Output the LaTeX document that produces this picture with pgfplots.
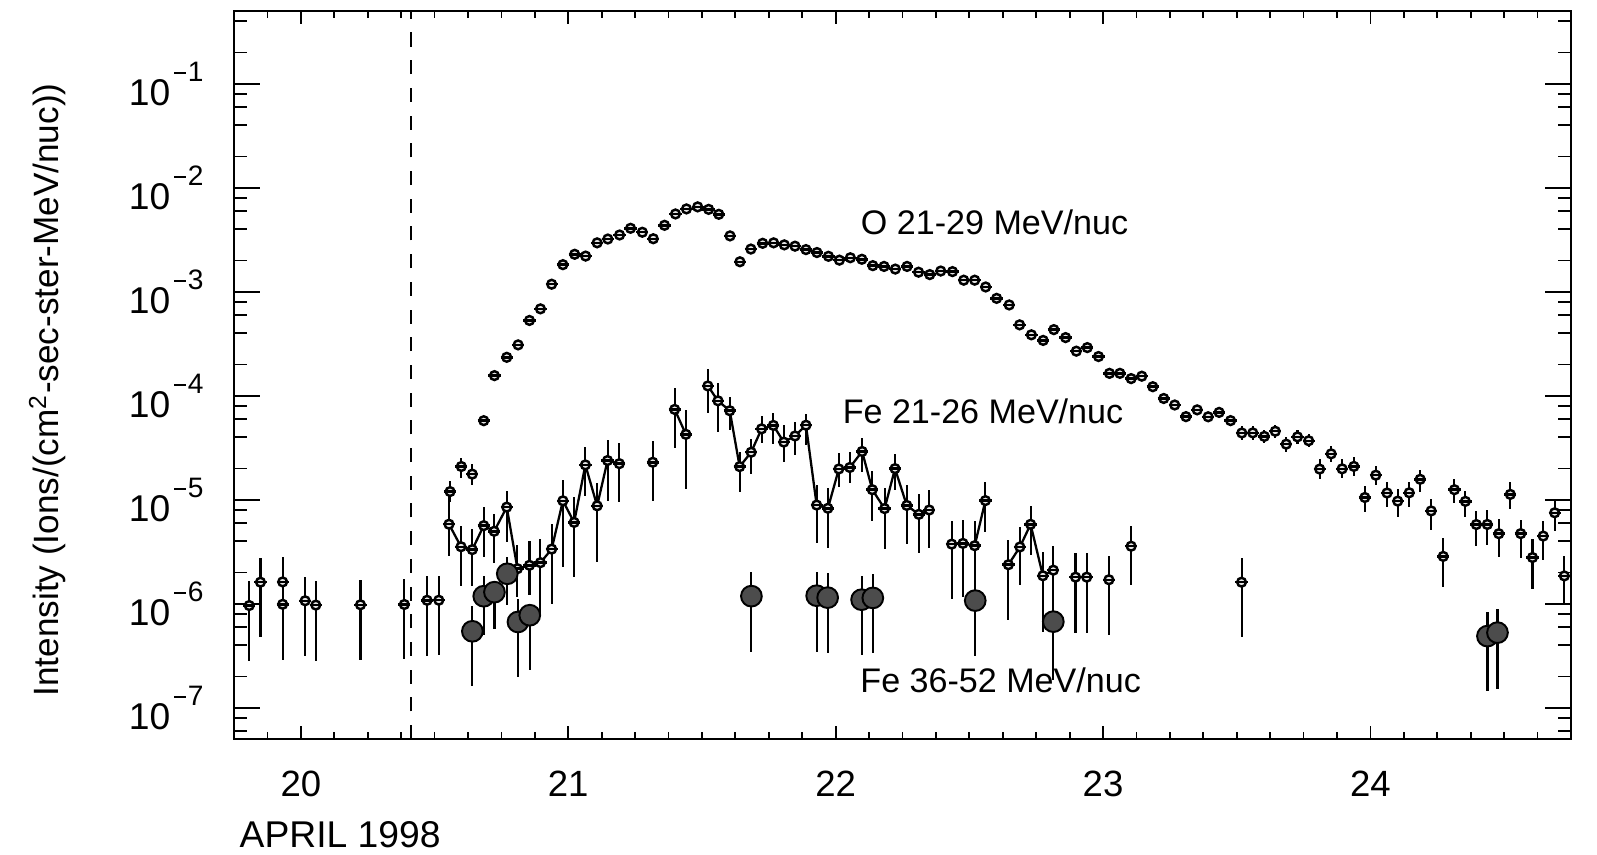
\documentclass[border=0pt]{standalone}
\usepackage{fontspec}
\setmainfont{Liberation Sans}
\usepackage{pgfplots}
\usepackage{pgfplotstable}
\pgfplotsset{compat=1.18}

% open circle crossed by a short horizontal bin bar
\pgfdeclareplotmark{thetac}{%
  \pgfpathcircle{\pgfpointorigin}{\pgfplotmarksize}%
  \pgfusepathqfillstroke
  \pgfpathmoveto{\pgfpoint{-1.4\pgfplotmarksize}{0pt}}%
  \pgfpathlineto{\pgfpoint{1.4\pgfplotmarksize}{0pt}}%
  \pgfusepathqstroke
}

% power-of-ten tick label
\newcommand\pw[1]{{\fontsize{10.6}{12}\selectfont 10\kern1.2pt\raisebox{6.8pt}{\fontsize{8}{9}\selectfont\rule[0.48ex]{0.42em}{0.09em}\kern0.06em#1}}}

% O 21-29 MeV/nuc, hourly, bars inside the symbol
\pgfplotstableread{
d y
20.684 5.75e-5
20.724 1.56e-4
20.770 2.34e-4
20.8125 3.08e-4
20.855 5.29e-4
20.896 6.84e-4
20.938 1.18e-3
20.980 1.82e-3
21.024 2.29e-3
21.065 2.20e-3
21.108 2.95e-3
21.148 3.21e-3
21.192 3.51e-3
21.233 4.07e-3
21.277 3.73e-3
21.318 3.23e-3
21.360 4.35e-3
21.401 5.59e-3
21.442 6.25e-3
21.484 6.54e-3
21.525 6.19e-3
21.563 5.55e-3
21.605 3.44e-3
21.642 1.94e-3
21.683 2.57e-3
21.727 2.92e-3
21.768 2.95e-3
21.808 2.82e-3
21.848 2.74e-3
21.889 2.54e-3
21.930 2.38e-3
21.973 2.19e-3
22.014 2.01e-3
22.055 2.12e-3
22.098 2.05e-3
22.139 1.78e-3
22.181 1.75e-3
22.223 1.65e-3
22.267 1.75e-3
22.310 1.54e-3
22.352 1.46e-3
22.393 1.58e-3
22.437 1.56e-3
22.479 1.29e-3
22.520 1.29e-3
22.561 1.11e-3
22.602 8.63e-4
22.649 7.46e-4
22.688 4.80e-4
22.732 3.85e-4
22.776 3.40e-4
22.816 4.32e-4
22.860 3.62e-4
22.900 2.68e-4
22.941 2.90e-4
22.983 2.38e-4
23.024 1.64e-4
23.063 1.64e-4
23.105 1.46e-4
23.145 1.54e-4
23.186 1.22e-4
}\tabO

% O 21-29 MeV/nuc with visible error bars
\pgfplotstableread{
d y lo hi
20.558 1.197e-5 9.40e-6 1.517e-5
20.600 2.085e-5 1.634e-5 2.544e-5
20.641 1.761e-5 1.393e-5 2.198e-5
23.227 9.40e-5 8.58e-5 1.03e-4
23.268 8.14e-5 7.43e-5 8.92e-5
23.310 6.29e-5 5.74e-5 6.89e-5
23.352 7.31e-5 6.67e-5 8.01e-5
23.393 6.27e-5 5.72e-5 6.87e-5
23.434 6.91e-5 6.30e-5 7.57e-5
23.477 5.76e-5 5.16e-5 6.43e-5
23.519 4.38e-5 3.78e-5 5.08e-5
23.560 4.39e-5 3.79e-5 5.09e-5
23.603 4.06e-5 3.50e-5 4.71e-5
23.644 4.55e-5 3.93e-5 5.27e-5
23.685 3.42e-5 2.89e-5 4.05e-5
23.727 4.02e-5 3.47e-5 4.66e-5
23.769 3.69e-5 3.18e-5 4.28e-5
23.810 1.97e-5 1.58e-5 2.46e-5
23.853 2.76e-5 2.30e-5 3.31e-5
23.894 1.98e-5 1.61e-5 2.44e-5
23.938 2.09e-5 1.69e-5 2.59e-5
23.979 1.05e-5 7.56e-6 1.36e-5
24.020 1.72e-5 1.37e-5 2.09e-5
24.062 1.16e-5 8.47e-6 1.47e-5
24.102 9.69e-6 6.80e-6 1.256e-5
24.145 1.166e-5 8.50e-6 1.478e-5
24.186 1.571e-5 1.195e-5 1.93e-5
24.227 7.80e-6 5.09e-6 1.011e-5
24.272 2.85e-6 1.433e-6 4.33e-6
24.314 1.247e-5 9.21e-6 1.579e-5
24.355 9.64e-6 6.76e-6 1.221e-5
24.396 5.77e-6 3.62e-6 7.86e-6
24.437 5.78e-6 3.63e-6 7.99e-6
24.480 4.71e-6 2.81e-6 6.46e-6
24.523 1.125e-5 8.20e-6 1.477e-5
24.562 4.72e-6 2.78e-6 6.44e-6
24.606 2.78e-6 1.40e-6 4.17e-6
24.646 4.47e-6 2.63e-6 6.26e-6
24.689 7.49e-6 5.00e-6 9.70e-6
24.725 1.85e-6 9.74e-7 2.90e-6
}\tabOb

% quiet-time intensities before the onset
\pgfplotstableread{
d y lo hi
19.807 9.60e-7 2.84e-7 1.67e-6
19.849 1.61e-6 4.78e-7 2.76e-6
19.932 1.62e-6 1.00e-6 2.82e-6
19.932 9.87e-7 2.90e-7 1.60e-6
20.016 1.067e-6 3.13e-7 1.815e-6
20.056 9.70e-7 2.84e-7 1.66e-6
20.223 9.76e-7 2.86e-7 1.70e-6
20.387 9.83e-7 2.91e-7 1.71e-6
20.472 1.078e-6 3.15e-7 1.85e-6
20.516 1.08e-6 3.20e-7 1.85e-6
}\tabQ

% Fe 21-26 MeV/nuc, runs of consecutive hours
\pgfplotstableread{
d y lo hi
20.554 5.81e-6 2.89e-6 1.145e-5
20.599 3.53e-6 1.49e-6 5.62e-6
20.641 3.31e-6 1.49e-6 5.22e-6
20.684 5.63e-6 2.80e-6 8.44e-6
20.723 4.97e-6 2.47e-6 7.30e-6
20.770 8.48e-6 3.91e-6 1.208e-5
20.810 2.17e-6 1.16e-6 3.64e-6
20.855 2.34e-6 1.20e-6 3.98e-6
20.896 2.48e-6 7.48e-7 4.17e-6
20.938 3.35e-6 9.83e-7 5.90e-6
20.980 9.76e-6 2.27e-6 1.543e-5
21.022 6.05e-6 1.82e-6 1.068e-5
21.064 2.16e-5 1.094e-5 3.23e-5
21.108 8.73e-6 2.54e-6 1.461e-5
21.147 2.38e-5 9.61e-6 3.76e-5
21.191 2.22e-5 9.42e-6 3.50e-5
}\feA
\pgfplotstableread{
d y lo hi
21.398 7.38e-5 3.16e-5 1.174e-4
21.440 4.25e-5 1.26e-5 7.23e-5
}\feB
\pgfplotstableread{
d y lo hi
21.522 1.241e-4 6.88e-5 1.82e-4
21.560 8.93e-5 4.43e-5 1.338e-4
21.604 7.17e-5 4.71e-5 9.62e-5
21.641 2.08e-5 1.178e-5 2.85e-5
21.684 2.86e-5 1.773e-5 3.85e-5
21.723 4.80e-5 3.52e-5 6.31e-5
21.767 5.18e-5 3.45e-5 6.80e-5
21.806 3.58e-5 2.30e-5 5.19e-5
21.848 4.10e-5 2.72e-5 5.59e-5
21.889 5.20e-5 3.34e-5 6.74e-5
21.929 8.88e-6 3.81e-6 1.382e-5
21.971 8.27e-6 3.46e-6 1.287e-5
22.012 1.975e-5 1.335e-5 2.80e-5
22.053 2.04e-5 1.442e-5 2.90e-5
22.099 2.91e-5 1.867e-5 3.91e-5
22.137 1.248e-5 6.19e-6 1.87e-5
22.183 8.21e-6 3.39e-6 1.299e-5
22.222 1.99e-5 1.252e-5 2.78e-5
22.266 8.81e-6 3.72e-6 1.40e-5
22.311 7.23e-6 3.10e-6 1.125e-5
22.350 7.96e-6 3.41e-6 1.231e-5
}\feC
\pgfplotstableread{
d y lo hi
22.434 3.74e-6 1.108e-6 6.26e-6
22.476 3.80e-6 1.152e-6 6.41e-6
22.520 3.61e-6 1.11e-6 6.28e-6
22.560 9.80e-6 4.87e-6 1.492e-5
}\feD
\pgfplotstableread{
d y lo hi
22.646 2.37e-6 6.92e-7 4.06e-6
22.689 3.51e-6 1.50e-6 5.47e-6
22.729 5.80e-6 2.92e-6 8.64e-6
22.775 1.856e-6 5.38e-7 3.11e-6
22.814 2.10e-6 6.47e-7 3.58e-6
}\feE
\pgfplotstableread{
d y lo hi
22.897 1.80e-6 5.21e-7 3.05e-6
22.939 1.80e-6 5.21e-7 3.05e-6
}\feF
\pgfplotstableread{
d y lo hi
21.316 2.29e-5 9.68e-6 3.65e-5
23.022 1.70e-6 5.04e-7 2.89e-6
23.105 3.57e-6 1.51e-6 5.56e-6
23.518 1.61e-6 4.78e-7 2.76e-6
}\feS

% Fe 36-52 MeV/nuc
\pgfplotstableread{
d y lo hi
20.6415 5.43e-7 1.60e-7 9.58e-7
20.684 1.18e-6 5.01e-7 1.836e-6
20.724 1.291e-6 5.66e-7 1.67e-6
20.772 1.94e-6 9.70e-7 2.81e-6
20.812 6.67e-7 1.98e-7 1.10e-6
20.856 7.75e-7 2.30e-7 9.31e-7
21.685 1.182e-6 3.43e-7 2.01e-6
21.929 1.194e-6 3.46e-7 2.03e-6
21.970 1.144e-6 3.35e-7 1.96e-6
22.097 1.093e-6 3.24e-7 1.83e-6
22.139 1.137e-6 3.37e-7 1.95e-6
22.522 1.071e-6 3.17e-7 1.69e-6
22.814 6.72e-7 1.85e-7 1.00e-6
24.4375 4.88e-7 1.446e-7 8.30e-7
24.475 5.27e-7 1.527e-7 8.96e-7
}\feHi

\pgfplotsset{
  smallpt/.style={mark=thetac, mark size=1.25pt,
    mark options={solid, fill=gray!20, draw=black, line width=0.7pt}},
  ybars/.style={error bars/.cd, y dir=both, y explicit, error mark=none,
    error bar style={solid, black, line width=0.6pt}},
  table/errtab/.style={x=d, y=y,
    y error plus expr=\thisrow{hi}-\thisrow{y},
    y error minus expr=\thisrow{y}-\thisrow{lo}},
}

\begin{document}
\begin{tikzpicture}
\begin{axis}[
  name=ax,
  scale only axis,
  width=133.7mm, height=72.8mm,
  xmin=19.75, xmax=24.75,
  ymode=log, ymin=5e-8, ymax=0.5,
  clip=false,
  axis line style={line width=0.55pt},
  tick style={black, line width=0.5pt},
  tick align=inside,
  xtick pos=both, ytick pos=both,
  xticklabel pos=lower, yticklabel pos=left,
  xtick={20,21,22,23,24},
  minor xtick={19.875,20,...,24.625},
  x tick style={/pgfplots/major tick length=1.27mm, /pgfplots/minor tick length=0.67mm},
  y tick style={/pgfplots/major tick length=2.6mm, /pgfplots/minor tick length=1.3mm},
  ytick={1e-7,1e-6,1e-5,1e-4,1e-3,1e-2,1e-1},
  yticklabels={\pw{7},\pw{6},\pw{5},\pw{4},\pw{3},\pw{2},\pw{1}},
  minor ytick={6e-8,8e-8,2e-7,4e-7,6e-7,8e-7,2e-6,4e-6,6e-6,8e-6,2e-5,4e-5,6e-5,8e-5,
    2e-4,4e-4,6e-4,8e-4,2e-3,4e-3,6e-3,8e-3,2e-2,4e-2,6e-2,8e-2,0.2,0.4},
  /pgf/number format/assume math mode=true,
  xticklabel style={font=\fontsize{10.4}{12}\selectfont, yshift=-2mm},
  yticklabel style={xshift=-1.8mm},
]
% onset marker
\addplot[black, line width=0.55pt, dash pattern=on 1.4mm off 1.37mm]
  coordinates {(20.413,5e-8) (20.413,0.5)};

% quiet time
\addplot[only marks, smallpt, ybars] table[errtab] {\tabQ};

% O 21-29 MeV/nuc
\addplot[only marks, smallpt] table[x=d, y=y] {\tabO};
\addplot[only marks, smallpt, ybars] table[errtab] {\tabOb};

% Fe 21-26 MeV/nuc
\addplot[black, line width=0.65pt, smallpt, ybars] table[errtab] {\feA};
\addplot[black, line width=0.65pt, smallpt, ybars] table[errtab] {\feB};
\addplot[black, line width=0.65pt, smallpt, ybars] table[errtab] {\feC};
\addplot[black, line width=0.65pt, smallpt, ybars] table[errtab] {\feD};
\addplot[black, line width=0.65pt, smallpt, ybars] table[errtab] {\feE};
\addplot[black, line width=0.65pt, smallpt, ybars] table[errtab] {\feF};
\addplot[only marks, smallpt, ybars] table[errtab] {\feS};

% Fe 36-52 MeV/nuc
\addplot[only marks, mark=*, mark size=2.95pt,
  mark options={fill=black!70, draw=black, line width=0.55pt}, ybars]
  table[errtab] {\feHi};

\node[anchor=base west, inner sep=0pt, font=\fontsize{9.7}{11}\selectfont]
  at (axis cs:22.092,3.51e-3) {O 21-29 MeV/nuc};
\node[anchor=base west, inner sep=0pt, font=\fontsize{9.7}{11}\selectfont]
  at (axis cs:22.024,5.35e-5) {Fe 21-26 MeV/nuc};
\node[anchor=base west, inner sep=0pt, font=\fontsize{9.7}{11}\selectfont]
  at (axis cs:22.090,1.40e-7) {Fe 36-52 MeV/nuc};
\end{axis}

\node[rotate=90, anchor=base, inner sep=0pt, font=\fontsize{10}{12}\selectfont]
  at ([xshift=-17.5mm, yshift=-1.5mm]ax.west)
  {Intensity (Ions/(cm\textsuperscript{2}-sec-ster-MeV/nuc))};
\node[anchor=base west, inner sep=0pt, font=\fontsize{10.6}{12}\selectfont]
  at ([xshift=0.5mm, yshift=-10.8mm]ax.south west) {APRIL 1998};

\pgfresetboundingbox
\path[use as bounding box] ([shift={(-23.4mm,-11.6mm)}]ax.south west)
  rectangle ([shift={(2.6mm,1.1mm)}]ax.north east);
\end{tikzpicture}
\end{document}
